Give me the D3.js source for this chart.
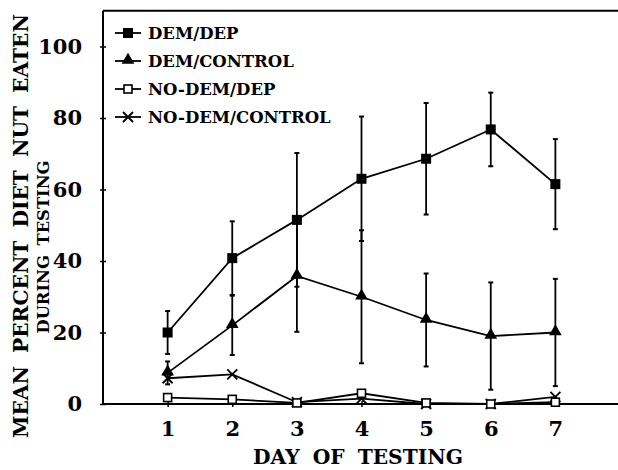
<!DOCTYPE html>
<html>
<head>
<meta charset="utf-8">
<script src="https://cdn.jsdelivr.net/npm/d3@7"></script>
<style>
  body { margin: 0; background: #fff; }
  svg { display: block; }
  text { font-family: "DejaVu Serif", serif; font-weight: bold; fill: #000; }
</style>
</head>
<body>
<svg id="chart" width="618" height="470"></svg>
<script>
// values
var days = [1, 2, 3, 4, 5, 6, 7];
var demDep = [20, 40.8, 51.5, 63, 68.6, 76.8, 61.5];
var demDepErr = [6, 10.3, 18.7, 17.4, 15.6, 10.3, 12.6];
var demCtrl = [8.7, 22, 35.8, 30, 23.5, 19, 20];
var demCtrlErr = [3.2, 8.3, 15.6, 18.6, 13, 15, 15];
var noDemDep = [1.8, 1.3, 0.3, 3, 0.3, 0, 0.5];
var noDemCtrl = [7.2, 8.3, 0.5, 1.5, 0, 0, 2];
var yTicks = [0, 20, 40, 60, 80, 100];
var legendNames = ["DEM/DEP", "DEM/CONTROL", "NO-DEM/DEP", "NO-DEM/CONTROL"];

var svg = d3.select("#chart");

var x = d3.scaleLinear().domain([0, 8]).range([103, 620]);
var y = d3.scaleLinear().domain([0, 100]).range([404, 46.5]);

var series = [
  {name: legendNames[0], vals: demDep, err: demDepErr, mark: "fsq"},
  {name: legendNames[1], vals: demCtrl, err: demCtrlErr, mark: "tri"},
  {name: legendNames[2], vals: noDemDep, err: null, mark: "osq"},
  {name: legendNames[3], vals: noDemCtrl, err: null, mark: "x"}
];

// frame: left axis, top line
svg.append("line")
  .attr("x1", x(0)).attr("x2", 618)
  .attr("y1", y(110)).attr("y2", y(110))
  .attr("stroke", "#000").attr("stroke-width", 2);

var yAxis = svg.append("g")
  .attr("transform", "translate(" + x(0) + ",0)")
  .call(d3.axisLeft(y).tickValues(yTicks).tickSize(3).tickPadding(18));
yAxis.select(".domain").remove();
yAxis.selectAll(".tick line").attr("x1", 3).attr("stroke-width", 1.5);
yAxis.selectAll("text").style("font-size", "21px").style("font-family", "DejaVu Serif");
yAxis.append("line")
  .attr("x1", 0).attr("x2", 0).attr("y1", y(110)).attr("y2", y(0) + 1)
  .attr("stroke", "#000").attr("stroke-width", 2);

var xAxis = svg.append("g")
  .attr("transform", "translate(0," + y(0) + ")")
  .call(d3.axisBottom(x).tickValues(days).tickSize(3).tickPadding(14));
xAxis.select(".domain").remove();
xAxis.selectAll(".tick line").attr("y1", -3).attr("stroke-width", 1.5);
xAxis.selectAll("text").style("font-size", "21px").style("font-family", "DejaVu Serif");
xAxis.append("line")
  .attr("x1", x(0)).attr("x2", 618).attr("y1", 0).attr("y2", 0)
  .attr("stroke", "#000").attr("stroke-width", 2);

// titles: shrink the font until the natural width fits the span in the figure
function fitTitle(t, size, span) {
  t.style("font-size", size + "px");
  var len = t.node().getComputedTextLength();
  if (len > span) t.style("font-size", (size * span / len) + "px");
  t.attr("textLength", span).attr("lengthAdjust", "spacingAndGlyphs");
}

fitTitle(svg.append("text")
  .attr("x", 358).attr("y", 464)
  .attr("text-anchor", "middle")
  .style("word-spacing", "6px")
  .text("DAY OF TESTING"), 22, 210);

fitTitle(svg.append("text")
  .attr("transform", "translate(28,226) rotate(-90)")
  .attr("text-anchor", "middle")
  .style("word-spacing", "6px")
  .text("MEAN PERCENT DIET NUT EATEN"), 21, 424);

fitTitle(svg.append("text")
  .attr("transform", "translate(49,247) rotate(-90)")
  .attr("text-anchor", "middle")
  .style("word-spacing", "4px")
  .text("DURING TESTING"), 18, 173);

function drawMark(g, type, cx, cy) {
  if (type === "fsq") {
    g.append("rect").attr("x", cx - 5).attr("y", cy - 5).attr("width", 10).attr("height", 10).attr("fill", "#000");
  } else if (type === "osq") {
    g.append("rect").attr("x", cx - 4).attr("y", cy - 4).attr("width", 8).attr("height", 8)
      .attr("fill", "#fff").attr("stroke", "#000").attr("stroke-width", 1.6);
  } else if (type === "tri") {
    g.append("path").attr("d", d3.symbol(d3.symbolTriangle, 70)()).attr("transform", "translate(" + cx + "," + (cy - 1) + ")").attr("fill", "#000");
  } else {
    g.append("path").attr("d", "M-5,-5L5,5M-5,5L5,-5").attr("transform", "translate(" + cx + "," + cy + ")")
      .attr("stroke", "#000").attr("stroke-width", 1.8).attr("fill", "none");
  }
}

var line = d3.line().x(function(d, i) { return x(days[i]); }).y(function(d) { return y(d); });

// draw low series first so the demented ones sit on top
series.slice().reverse().forEach(function(s) {
  var g = svg.append("g");
  if (s.err) {
    s.vals.forEach(function(v, i) {
      var cx = x(days[i]);
      g.append("line").attr("x1", cx).attr("x2", cx).attr("y1", y(v - s.err[i])).attr("y2", y(v + s.err[i]))
        .attr("stroke", "#000").attr("stroke-width", 1.8);
      [v - s.err[i], v + s.err[i]].forEach(function(e) {
        g.append("line").attr("x1", cx - 2.5).attr("x2", cx + 2.5).attr("y1", y(e)).attr("y2", y(e))
          .attr("stroke", "#000").attr("stroke-width", 2);
      });
    });
  }
  g.append("path").datum(s.vals).attr("d", line)
    .attr("fill", "none").attr("stroke", "#000").attr("stroke-width", 1.8);
  s.vals.forEach(function(v, i) { drawMark(g, s.mark, x(days[i]), y(v)); });
});

// legend
var leg = svg.append("g");
series.forEach(function(s, i) {
  var ly = 33 + i * 28;
  leg.append("line").attr("x1", 115).attr("x2", 141).attr("y1", ly).attr("y2", ly)
    .attr("stroke", "#000").attr("stroke-width", 1.8);
  drawMark(leg, s.mark, 128, ly);
  leg.append("text").attr("x", 148).attr("y", ly).attr("dy", "0.36em")
    .style("font-size", "16.5px").text(s.name);
});
</script>
</body>
</html>
